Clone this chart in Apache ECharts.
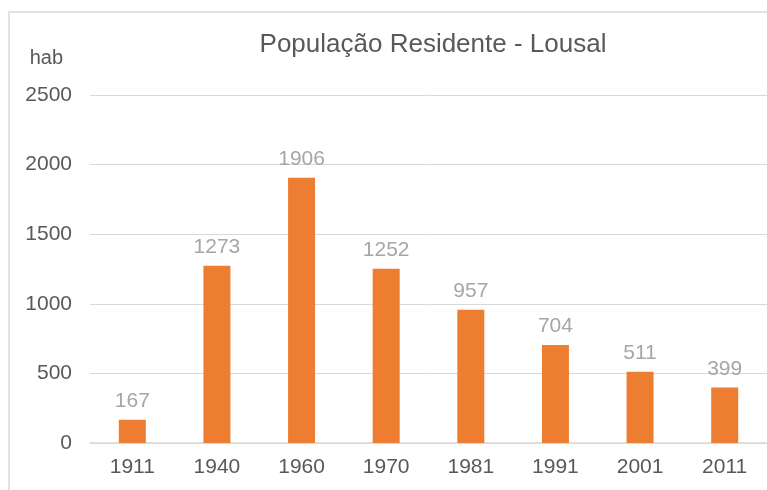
<!DOCTYPE html>
<html>
<head>
<meta charset="utf-8">
<script src="https://cdn.jsdelivr.net/npm/echarts@6/dist/echarts.min.js"></script>
<style>
    html, body { margin: 0; padding: 0; background: #fff; }
    #chart { width: 767px; height: 490px; }
</style>
</head>
<body>
<div id="chart"></div>
<script>
// dados
var anos = ['1911', '1940', '1960', '1970', '1981', '1991', '2001', '2011'];
var populacao = [167, 1273, 1906, 1252, 957, 704, 511, 399];
var yTicks = [0, 500, 1000, 1500, 2000, 2500];

var fonte = '"Liberation Sans", Arial, sans-serif';

function getBarOption() {
    return {
        animation: false,
        textStyle: { fontFamily: fonte },
        title: {
            text: 'População Residente - Lousal',
            left: 428,
            top: 27,
            textAlign: 'center',
            textStyle: {
                fontFamily: fonte,
                fontSize: 26,
                fontWeight: 'normal',
                color: '#595959'
            }
        },
        graphic: [{
            type: 'rect',
            shape: { x: 9, y: 12, width: 800, height: 500 },
            style: { fill: 'none', stroke: '#d9d9d9', lineWidth: 1.5 },
            silent: true
        }],
        grid: {
            left: 90,
            right: 0,
            top: 95,
            bottom: 47
        },
        xAxis: {
            type: 'category',
            data: anos,
            axisTick: { show: false },
            axisLine: { lineStyle: { color: '#d9d9d9', width: 1.5 } },
            axisLabel: {
                fontFamily: fonte,
                fontSize: 21,
                color: '#595959',
                margin: 14
            }
        },
        yAxis: {
            type: 'value',
            name: 'hab',
            nameLocation: 'end',
            nameGap: 27,
            nameTextStyle: {
                fontFamily: fonte,
                fontSize: 20,
                color: '#595959',
                align: 'right',
                padding: [0, 27, 0, 0]
            },
            min: yTicks[0],
            max: yTicks[yTicks.length - 1],
            interval: 500,
            axisLine: { show: false },
            axisTick: { show: false },
            axisLabel: {
                fontFamily: fonte,
                fontSize: 21,
                color: '#595959',
                margin: 18,
                formatter: function (v) { return String(v); }
            },
            splitLine: { lineStyle: { color: '#d9d9d9', width: 1 } }
        },
        series: [{
            name: 'hab',
            type: 'bar',
            data: populacao,
            barWidth: 27,
            itemStyle: { color: '#ED7D31' },
            label: {
                show: true,
                position: 'top',
                distance: 8,
                fontFamily: fonte,
                fontSize: 21,
                color: '#a6a6a6'
            }
        }]
    };
}

var myChart = echarts.init(document.getElementById('chart'));
myChart.setOption(getBarOption());
</script>
</body>
</html>
